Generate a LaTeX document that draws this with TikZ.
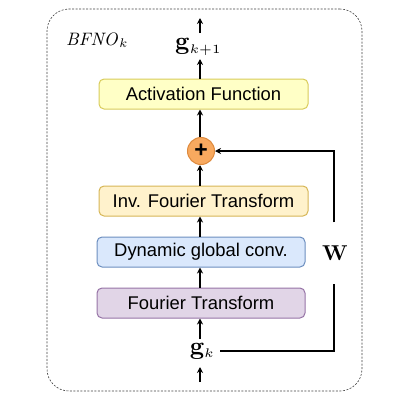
\documentclass[tikz,border=0pt]{standalone}
\usepackage{graphicx}
\usepackage[no-math]{fontspec}
\newfontfamily\arialf{Liberation Sans}
\usetikzlibrary{arrows.meta,calc}
\definecolor{actfill}{HTML}{FFFFC6}
\definecolor{actdraw}{HTML}{D8CB5A}
\definecolor{invfill}{HTML}{FFF2CC}
\definecolor{invdraw}{HTML}{D6B656}
\definecolor{dynfill}{HTML}{DAE8FC}
\definecolor{dyndraw}{HTML}{6C8EBF}
\definecolor{ftfill}{HTML}{E1D5E7}
\definecolor{ftdraw}{HTML}{9673A6}
\definecolor{plusfill}{HTML}{F8A95F}
\definecolor{plusdraw}{HTML}{DE8A3E}
\begin{document}
\begin{tikzpicture}[x=1pt,y=-1pt,
  blockbox/.style={draw, line width=1pt, rounded corners=5pt, minimum height=30pt,
     inner sep=0pt, font=\arialf\fontsize{18.4}{20}\selectfont},
  arr/.style={-{Stealth[length=6pt,width=6pt]}, line width=1.2pt},
  fb/.style={line width=1.2pt},
  mathlbl/.style={inner sep=0pt, font=\normalsize}]
\useasboundingbox (0,0) rectangle (400,400);
\node[draw=black!75, dash pattern=on 2pt off 1.5pt, line width=0.6pt, rounded corners=22pt,
  minimum width=315pt, minimum height=382pt, inner sep=0pt] (frame) at (204.5,200) {};
\node[inner sep=0pt, anchor=base west] (title) at (66,45) {\scalebox{1.8}{$\mathit{BFNO}_k$}};
\node[blockbox, fill=actfill, draw=actdraw, minimum width=209pt] (act) at (203.5,94) {Activation Function};
\node[circle, draw=plusdraw, fill=plusfill, line width=1pt, minimum size=27pt, inner sep=0pt,
  font=\arialf\bfseries\fontsize{23}{23}\selectfont] (plus) at (201,151) {+};
\node[blockbox, fill=invfill, draw=invdraw, minimum width=209pt] (inv) at (203.5,201) {Inv. Fourier Transform};
\node[blockbox, fill=dynfill, draw=dyndraw, minimum width=208pt] (dyn) at (201,252) {Dynamic global conv.};
\node[blockbox, fill=ftfill, draw=ftdraw, minimum width=208pt] (ft) at (201,303) {Fourier Transform};
\node[mathlbl, inner xsep=5pt, minimum height=22pt] (gk) at (202.5,351) {\scalebox{2.5}{$\mathbf{g}_{\scriptscriptstyle k}$}};
\node[mathlbl, minimum height=22pt] (gk1) at (198.5,47) {\scalebox{2.5}{$\mathbf{g}_{\scriptscriptstyle k+1}$}};
\node[mathlbl, minimum height=61pt] (W) at (335,253) {\scalebox{2.15}{$\mathbf{W}$}};
\coordinate (inp) at (200,382);
\coordinate (outp) at (200,18);
\draw[arr] (inp) -- (200,367);
\draw[arr] (200,339) -- (ft.south -| 200,0);
\draw[arr] (ft.north -| 200,0) -- (dyn.south -| 200,0);
\draw[arr] (dyn.north -| 200,0) -- (inv.south -| 200,0);
\draw[arr] (inv.north -| 200,0) -- (plus.south -| 200,0);
\draw[arr] (plus.north -| 200,0) -- (act.south -| 200,0);
\draw[arr] (act.north -| 200,0) -- (200,59);
\draw[arr] (200,33) -- (outp);
\draw[fb] (gk.east) -| (W.south -| 334,0);
\draw[arr] (W.north -| 334,0) |- (plus.east);
\end{tikzpicture}
\end{document}
